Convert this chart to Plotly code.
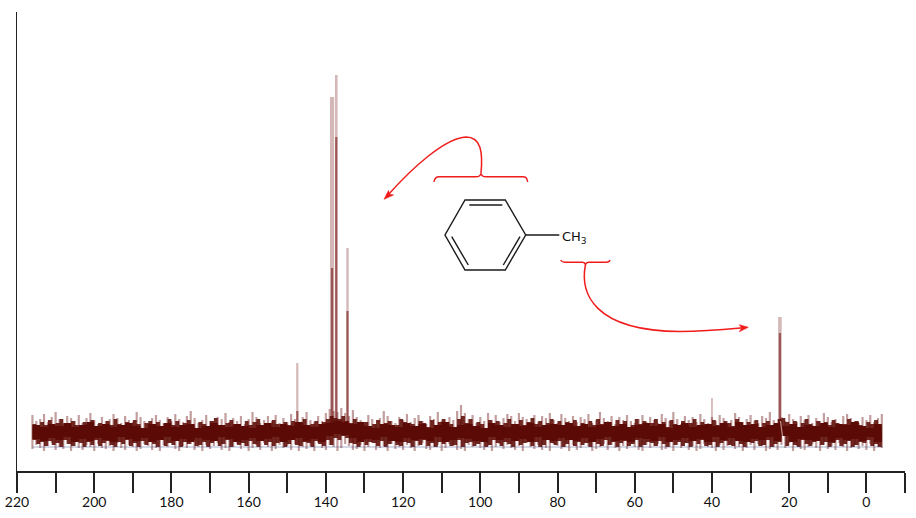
import numpy as np
import plotly.graph_objects as go

# ---- chart values -------------------------------------------------------
major_ticks = [220,200,180,160,140,120,100,80,60,40,20,0]
major_labels = ["220","200","180","160","140","120","100","80","60","40","20","0"]
minor_ticks = [210,190,170,150,130,110,90,70,50,30,10,-10]

# stronger signals: ppm, top of the pale trace, top of the darker trace
pale_ppm  = [147.4, 138.4, 137.3, 134.4, 40.0, 22.4]
pale_top  = [108, 374, 396, 223, 73, 154]
pale_wide = [2.2, 4.2, 2.6, 2.4, 1.8, 3.6]
core_ppm  = [147.4, 138.4, 137.3, 134.4, 22.4]
core_top  = [60, 203, 334, 160, 138]

# noise envelope read along the baseline, 216 -> -4 ppm, one value per ppm
pale_hi = [56,50,52,57,49,54,59,52,47,55,53,50,56,48,53,58,51,47,54,50,
           52,57,53,48,55,51,49,59,54,50,47,53,56,51,48,54,50,57,52,49,
           55,60,53,48,51,56,50,47,54,52,58,49,53,50,55,47,52,59,54,48,
           51,55,50,56,48,53,49,57,52,47,54,59,51,49,55,50,58,62,60,59,
           63,58,55,61,54,51,49,56,52,47,53,60,55,50,48,54,51,57,49,53,
           56,50,47,55,52,59,50,48,54,51,60,66,58,52,56,48,54,50,58,51,
           56,49,53,57,55,50,58,54,52,49,56,49,55,53,58,51,48,57,53,50,
           55,49,54,52,57,48,51,59,53,50,55,47,54,51,56,50,48,52,56,49,
           54,51,48,57,53,50,59,52,47,55,51,54,49,57,52,48,54,50,56,53,
           47,51,58,54,49,52,56,50,48,55,53,59,51,47,54,50,57,52,49,55,
           51,56,48,53,50,58,54,49,52,47,55,57,53,50,48,54,51,56,49,53,57]
pale_lo = [22,26,23,20,25,28,21,24,22,27,20,25,23,21,26,24,20,27,23,22,
           25,20,28,23,21,26,24,20,22,27,25,21,23,20,26,24,28,22,20,25,
           23,27,21,24,20,26,22,25,28,21,23,20,24,27,22,25,20,23,26,21,
           28,24,20,22,26,23,25,21,27,20,24,22,25,20,28,23,21,26,24,20,
           23,27,25,21,22,26,20,24,28,21,23,25,20,27,22,24,21,26,23,20,
           25,28,22,21,24,26,20,23,27,25,21,22,20,26,24,28,23,21,25,20,
           24,27,22,26,23,21,25,20,28,24,22,26,21,23,20,27,25,22,24,20,
           26,21,23,28,25,20,22,24,27,21,26,23,20,25,22,28,24,21,20,26,
           23,25,27,21,22,24,20,26,23,28,21,25,20,22,27,24,23,20,26,21,
           25,28,22,24,20,23,26,21,27,25,20,22,24,21,26,23,28,20,25,22,
           21,24,27,23,20,26,22,25,21,28,24,20,23,26,22,25,21,27,20,24,23]
mid_hi = [47,44,49,46,51,45,48,52,44,47,50,46,43,49,47,51,45,48,44,50,
          46,52,47,44,49,45,51,47,43,48,50,45,49,44,47,52,46,50,44,48,
          51,46,43,49,47,45,50,53,46,44,48,51,45,47,43,50,46,49,52,44,
          48,45,51,47,43,49,46,50,44,48,52,45,47,50,44,49,52,55,53,52,
          55,50,48,52,47,46,49,43,47,51,45,48,50,44,46,52,49,45,47,43,
          50,48,44,51,46,49,52,45,47,43,52,55,48,52,45,49,47,43,51,45,
          50,46,48,52,47,47,51,46,49,53,47,50,45,48,52,46,50,44,49,47,
          51,45,48,44,50,46,52,47,43,49,45,51,47,50,44,46,52,47,50,45,
          48,52,46,49,44,51,47,43,50,46,48,52,45,49,44,47,51,46,43,50,
          48,45,52,47,44,49,46,51,43,48,50,45,47,52,53,49,46,50,44,48,
          52,47,45,50,43,49,46,51,48,44,47,52,45,50,46,43,49,47,51,45,48]
mid_lo = [31,27,29,25,30,26,28,24,31,27,25,30,28,24,29,26,31,25,28,30,
          26,24,29,27,31,25,28,24,30,26,29,27,24,31,25,28,26,30,24,29,
          27,31,25,26,29,24,28,30,25,27,31,24,29,26,28,25,30,27,24,31,
          26,29,25,28,30,24,27,31,26,25,29,28,24,30,27,25,31,26,33,31,
          35,33,28,27,24,31,26,29,28,25,30,24,27,31,26,25,29,28,24,30,
          26,31,25,28,24,29,27,30,25,26,31,24,28,29,25,27,30,24,26,31,
          28,25,29,27,24,30,26,28,31,25,29,24,26,31,28,26,30,24,27,31,
          25,29,26,28,24,30,27,25,31,26,29,24,28,30,25,27,31,24,26,29,
          28,25,30,27,24,31,26,29,25,28,24,30,27,31,25,26,29,24,28,30,
          26,25,31,27,24,29,28,30,25,26,31,24,27,29,36,25,30,26,24,31,
          27,25,29,30,26,29,24,28,31,25,27,30,24,26,29,28,31,25,27,24,30]
core_hi = [46,44,47,45,48,44,46,49,45,47,44,46,48,45,43,47,45,48,44,46,
           47,43,45,48,46,44,47,45,43,46,48,44,47,45,49,46,44,47,48,50,
           49,47,49,45,43,47,46,44,48,45,47,43,46,49,44,46,47,45,43,48,
           46,44,47,45,48,44,46,47,46,48,45,47,44,46,49,45,47,44,46,48,
           45,47,43,46,48,44,46,47,45,48,44,49,46,47,44,46,48,45,47,44,
           46,45,48,44,47,46,49,45,43,47,46]
core_lo = [32,30,33,31,34,29,32,30,33,31,29,34,32,30,33,29,31,34,30,32,
           29,33,31,30,34,32,29,31,33,30,32,34,29,31,33,30,32,29,35,37,
           36,33,29,32,31,34,30,29,33,31,32,30,34,29,31,33,32,30,29,34,
           31,33,30,32,29,34,31,30,33,31,30,33,29,32,34,30,31,29,33,32,
           30,34,29,31,33,30,32,29,34,31,33,30,29,32,31,34,30,35,29,32,
           31,30,34,29,33,31,32,30,34,29,31]
blue_line = [24, 24]
noise_span = [216, -4]

# ---- page geometry for the drawn-on annotations (pixels of the 916x518 page)
L, T, R, B = 17, 12, 11, 47
W, H = 916, 518
PW, PH = W - L - R, H - T - B


def shape_path(d, color, width=1.3, fill=None):
    return dict(type="path", xref="paper", yref="paper", path=d,
                line=dict(color=color, width=width),
                fillcolor=fill if fill else "rgba(0,0,0,0)", layer="above")


def paper_path(*parts):
    out = []
    for part in parts:
        if isinstance(part, str):
            out.append(part)
        else:
            out.append(f"{(part[0] - L) / PW:.5f},{(H - B - part[1]) / PH:.5f}")
    return " ".join(out)


fig = go.Figure()


def band(hi, lo, color):
    xh = np.linspace(noise_span[0], noise_span[1], len(hi))
    xl = np.linspace(noise_span[0], noise_span[1], len(lo))
    fig.add_trace(go.Scatter(x=xl, y=lo, mode="lines", line=dict(color=color, width=0, shape="hv")))
    fig.add_trace(go.Scatter(x=xh, y=hi, mode="lines", fill="tonexty", fillcolor=color,
                             line=dict(color=color, width=0, shape="hv")))


def sticks(ppm, top, base=38):
    xs, ys = [], []
    for p, t in zip(ppm, top):
        xs += [p, p, None]
        ys += [base, t, None]
    return xs, ys


for p, t, w in zip(pale_ppm, pale_top, pale_wide):
    x, y = sticks([p], [t])
    fig.add_trace(go.Scatter(x=x, y=y, mode="lines",
                             line=dict(color="rgba(120,35,35,0.32)", width=w)))
for p, t in zip(core_ppm, core_top):
    x, y = sticks([p], [t])
    fig.add_trace(go.Scatter(x=x, y=y, mode="lines",
                             line=dict(color="rgba(120,25,25,0.62)", width=2.2)))

# pale noise as fine separate strokes above and below the band
ppm_axis_hi = np.linspace(noise_span[0], noise_span[1], len(pale_hi))
x, y = sticks(ppm_axis_hi, pale_hi)
fig.add_trace(go.Scatter(x=x, y=y, mode="lines", line=dict(color="rgba(110,25,25,0.42)", width=2.2)))
ppm_axis_lo = np.linspace(noise_span[0], noise_span[1], len(pale_lo))
x, y = sticks(ppm_axis_lo, pale_lo)
fig.add_trace(go.Scatter(x=x, y=y, mode="lines", line=dict(color="rgba(110,25,25,0.42)", width=2.2)))

band(mid_hi, mid_lo, "rgba(92,10,5,0.88)")
band(core_hi, core_lo, "#5c0a05")
fig.add_trace(go.Scatter(x=noise_span, y=blue_line, mode="lines",
                         line=dict(color="rgba(70,80,140,0.3)", width=1.5)))

BLK = "#1a1a1a"
RED = "#f01c1c"
shapes = [
    shape_path(paper_path("M", (465, 200), "L", (505.3, 200), "L", (525.7, 235), "L", (505.3, 270),
                          "L", (465, 270), "L", (445, 235), "Z"), BLK, 1.4),
    shape_path(paper_path("M", (469.3, 205), "L", (502.3, 205)), BLK, 1.4),
    shape_path(paper_path("M", (451.7, 236.7), "L", (468.3, 265)), BLK, 1.4),
    shape_path(paper_path("M", (503.3, 265), "L", (520, 236.7)), BLK, 1.4),
    shape_path(paper_path("M", (525.7, 235), "L", (559.3, 235)), BLK, 1.4),
    shape_path(paper_path("M", (434, 182), "C", (434.5, 178), (436, 176.7), (439, 176.7), "L", (476, 176.7),
                          "C", (479, 176.7), (480.5, 175.5), (481, 173.3),
                          "C", (481.5, 175.5), (483, 176.7), (486, 176.7), "L", (522.5, 176.7),
                          "C", (526, 176.7), (527, 178), (527.7, 182)), RED, 1.4),
    shape_path(paper_path("M", (481, 173.3), "C", (483, 152), (481, 137), (466, 137),
                          "C", (445, 138), (412, 168), (388, 195)), RED, 1.5),
    shape_path(paper_path("M", (384, 199.3), "L", (388.5, 190.5), "L", (389.3, 194), "L", (393.5, 195), "Z"),
               RED, 0.6, RED),
    shape_path(paper_path("M", (560.7, 260), "C", (561.5, 261.5), (562.5, 262.3), (564.5, 262.3), "L", (582.5, 262.3),
                          "C", (584, 262.3), (585, 263), (585.5, 264.5),
                          "C", (586, 263), (587, 262.3), (588.5, 262.3), "L", (606.5, 262.3),
                          "C", (608.5, 262.3), (609.5, 261.5), (610, 260)), RED, 1.4),
    shape_path(paper_path("M", (585.5, 264.5), "C", (580, 292), (592, 331), (680, 331.5),
                          "C", (705, 331.5), (725, 329.5), (743, 327.8)), RED, 1.5),
    shape_path(paper_path("M", (748.3, 327.3), "L", (739.3, 324.8), "L", (741.7, 328), "L", (739.3, 331.7), "Z"),
               RED, 0.6, RED),
    shape_path(paper_path("M", (780.5, 421), "L", (783.5, 444)), "rgba(255,235,235,0.6)", 1.2),
]

fig.update_layout(
    width=W, height=H, autosize=False, showlegend=False,
    paper_bgcolor="white", plot_bgcolor="white",
    margin=dict(l=L, r=R, t=T, b=B, pad=0, autoexpand=False),
    shapes=shapes,
    annotations=[dict(xref="paper", yref="paper", x=(560 - L) / PW, y=(H - B - 238) / PH,
                      xanchor="left", yanchor="middle", showarrow=False,
                      text="CH<sub>3</sub>", font=dict(family="DejaVu Sans", size=13, color="#111111"))],
    xaxis=dict(range=[220, -10], automargin=False, tickmode="array", tickvals=major_ticks, ticktext=major_labels,
               ticks="outside", ticklen=20, tickwidth=1.5, tickcolor="#222222", ticklabelstandoff=-3,
               minor=dict(tickmode="array", tickvals=minor_ticks, ticks="outside", ticklen=20,
                          tickwidth=1.5, tickcolor="#222222", showgrid=False),
               showline=True, linecolor="#222222", linewidth=1.6, showgrid=False, zeroline=False,
               tickangle=0, tickfont=dict(family="Lato", size=14, color="#111111")),
    yaxis=dict(range=[0, PH], automargin=False, showticklabels=False, ticks="", showline=True,
               linecolor="#222222", linewidth=1.4, showgrid=False, zeroline=False),
)

fig.write_html("out.html", config={"displayModeBar": False},
               post_script="document.documentElement.style.margin='0';document.body.style.margin='0';document.body.style.padding='0';")
